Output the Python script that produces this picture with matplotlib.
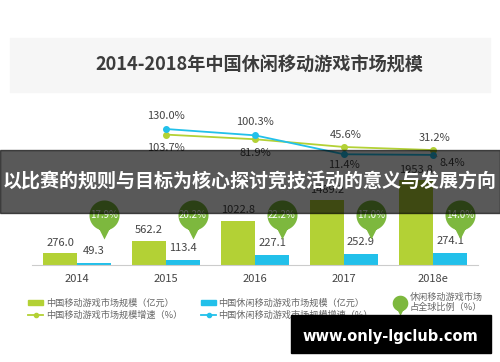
import numpy as np
import matplotlib
matplotlib.use("Agg")
import matplotlib.pyplot as plt
from matplotlib.patches import Rectangle, Patch
from matplotlib.lines import Line2D
from matplotlib.path import Path

plt.rcParams['font.family'] = ['Noto Sans CJK SC', 'DejaVu Sans']

# data
years = ['2014', '2015', '2016', '2017', '2018e']
mobile_market = [276.0, 562.2, 1022.8, 1489.2, 1953.8]      # 亿元
casual_market = [49.3, 113.4, 227.1, 252.9, 274.1]         # 亿元
mobile_growth = [103.7, 81.9, 45.6, 31.2]                  # %, 2015-2018e
casual_growth = [130.0, 100.3, 11.4, 8.4]                  # %, 2015-2018e
global_share = [17.9, 20.2, 22.2, 17.0, 14.0]              # %

GREEN = '#b3d135'
BLUE = '#22c0ea'
BUBBLE = '#7db83e'
TXT = '#444444'

W, H = 500, 362
fig = plt.figure(figsize=(W / 100, H / 100), dpi=100)

def fx(px):
    return px / W

def fy(py):
    return 1 - py / H

# light title panel
fig.patches.append(Rectangle((fx(10), fy(92)), fx(480), (92 - 38) / H,
                             transform=fig.transFigure, color='#f6f6f6', zorder=0))
fig.text(fx(259), fy(65), '2014-2018年中国休闲移动游戏市场规模', ha='center', va='center',
         fontsize=13.1, fontweight='bold', color='#3c3c3c')

# bar axes
ax = fig.add_axes([fx(32.5), fy(265), fx(445), (265 - 100) / H])
ax.patch.set_alpha(0)
x = np.arange(len(years))
bw = 0.382
b1 = ax.bar(x - bw / 2, mobile_market, bw, color=GREEN, zorder=2)
b2 = ax.bar(x + bw / 2, casual_market, bw, color=BLUE, zorder=2)
ax.set_xlim(-0.5, 4.5)
ax.set_ylim(0, 3793)
for s in ['top', 'left', 'right']:
    ax.spines[s].set_visible(False)
ax.spines['bottom'].set_color('#cccccc')
ax.set_yticks([])
ax.set_xticks(x)
ax.set_xticklabels(years, fontsize=8, color=TXT)
ax.tick_params(axis='x', length=0, pad=6.5)

for bar, v in zip(b1, mobile_market):
    ax.annotate(f'{v:.1f}', (bar.get_x() + bar.get_width() / 2, v), xytext=(0, 7.5),
                textcoords='offset points', ha='center', va='center', fontsize=8, color=TXT)
for bar, v in zip(b2, casual_market):
    ax.annotate(f'{v:.1f}', (bar.get_x() + bar.get_width() / 2, v), xytext=(0, 8.5),
                textcoords='offset points', ha='center', va='center', fontsize=8, color=TXT)

# balloon markers for global share (circle + downward tip, same winding)
theta = np.linspace(0, 2 * np.pi, 60)
circ = np.column_stack([15 * np.cos(theta), 15 * np.sin(theta)])
tri = np.array([[-6, -12], [0, -24], [6, -12], [-6, -12]])
verts = np.vstack([circ, tri])
codes = ([Path.MOVETO] + [Path.LINETO] * (len(circ) - 2) + [Path.CLOSEPOLY] +
         [Path.MOVETO, Path.LINETO, Path.LINETO, Path.CLOSEPOLY])
balloon = Path(verts, codes)
bx = x + 0.3
by = np.full(len(years), 1150.0)
ax.plot(bx, by, linestyle='none', marker=balloon, markersize=34.6,
        markerfacecolor=BUBBLE, markeredgewidth=0, zorder=3)
for xi, yi, s in zip(bx, by, global_share):
    ax.text(xi, yi, f'{s:.1f}%', ha='center', va='center', fontsize=7, color='white', zorder=4)

# growth lines
ax2 = ax.twinx()
ax2.set_ylim(-508.5, 266.2)
ax2.axis('off')
xl = x[1:]
ax2.plot(xl, mobile_growth, color=GREEN, lw=1.3, marker='o', ms=4, zorder=3)
ax2.plot(xl, casual_growth, color=BLUE, lw=1.3, marker='o', ms=4, zorder=3)
for xi, v in zip(xl, casual_growth[:2]):
    ax2.annotate(f'{v:.1f}%', (xi, v), xytext=(0, 9.5), textcoords='offset points',
                 ha='center', va='center', fontsize=8, color=TXT)
for xi, v in zip(xl, mobile_growth[:2]):
    ax2.annotate(f'{v:.1f}%', (xi, v), xytext=(0, -9.8), textcoords='offset points',
                 ha='center', va='center', fontsize=8, color=TXT)
for xi, v in zip(xl[2:], mobile_growth[2:]):
    ax2.annotate(f'{v:.1f}%', (xi, v), xytext=(1, 8.5), textcoords='offset points',
                 ha='center', va='center', fontsize=8, color=TXT)
ax2.annotate(f'{casual_growth[2]:.1f}%', (xl[2], casual_growth[2]), xytext=(0, -7.5),
             textcoords='offset points', ha='center', va='center', fontsize=8, color=TXT)
ax2.annotate(f'{casual_growth[3]:.1f}%', (xl[3], casual_growth[3]), xytext=(5, -6),
             textcoords='offset points', ha='left', va='center', fontsize=8, color=TXT,
             arrowprops=dict(arrowstyle='-', color='#999999', lw=0.6, shrinkA=0, shrinkB=1))

# legend
handles = [Patch(color=GREEN),
           Line2D([], [], color=GREEN, lw=1.3, marker='o', ms=3),
           Patch(color=BLUE),
           Line2D([], [], color=BLUE, lw=1.3, marker='o', ms=3),
           Line2D([], [], linestyle='none', marker=balloon, ms=18, markerfacecolor=BUBBLE,
                  markeredgewidth=0)]
labels = ['中国移动游戏市场规模（亿元）', '中国移动游戏市场规模增速（%）',
          '中国休闲移动游戏市场规模（亿元）', '中国休闲移动游戏市场规模增速（%）',
          '休闲移动游戏市场\n占全球比例（%）']
leg = fig.legend(handles, labels, ncol=3, loc='upper left', bbox_to_anchor=(fx(20), fy(284)),
                 frameon=False, fontsize=6.6, labelcolor='#666666', handlelength=1.6,
                 handleheight=0.6, handletextpad=0.3, columnspacing=2.1, labelspacing=0.3)

# overlay banner
fig.patches.append(Rectangle((0, fy(213)), 1, (213 - 150) / H, transform=fig.transFigure,
                             color='black', alpha=0.65, zorder=10))
fig.text(0.5, fy(182), '以比赛的规则与目标为核心探讨竞技活动的意义与发展方向', ha='center',
         va='center', fontsize=13.7, fontweight='bold', color='white', zorder=11)

# watermark
fig.patches.append(Rectangle((fx(291), fy(353)), fx(200), (353 - 315) / H,
                             transform=fig.transFigure, color='black', zorder=10))
fig.text(fx(390), fy(336), 'www.only-lgclub.com', ha='center', va='center', fontsize=10.5,
         fontweight='bold', color='white', family='DejaVu Sans', zorder=11)

fig.savefig('out.png', dpi=100)
